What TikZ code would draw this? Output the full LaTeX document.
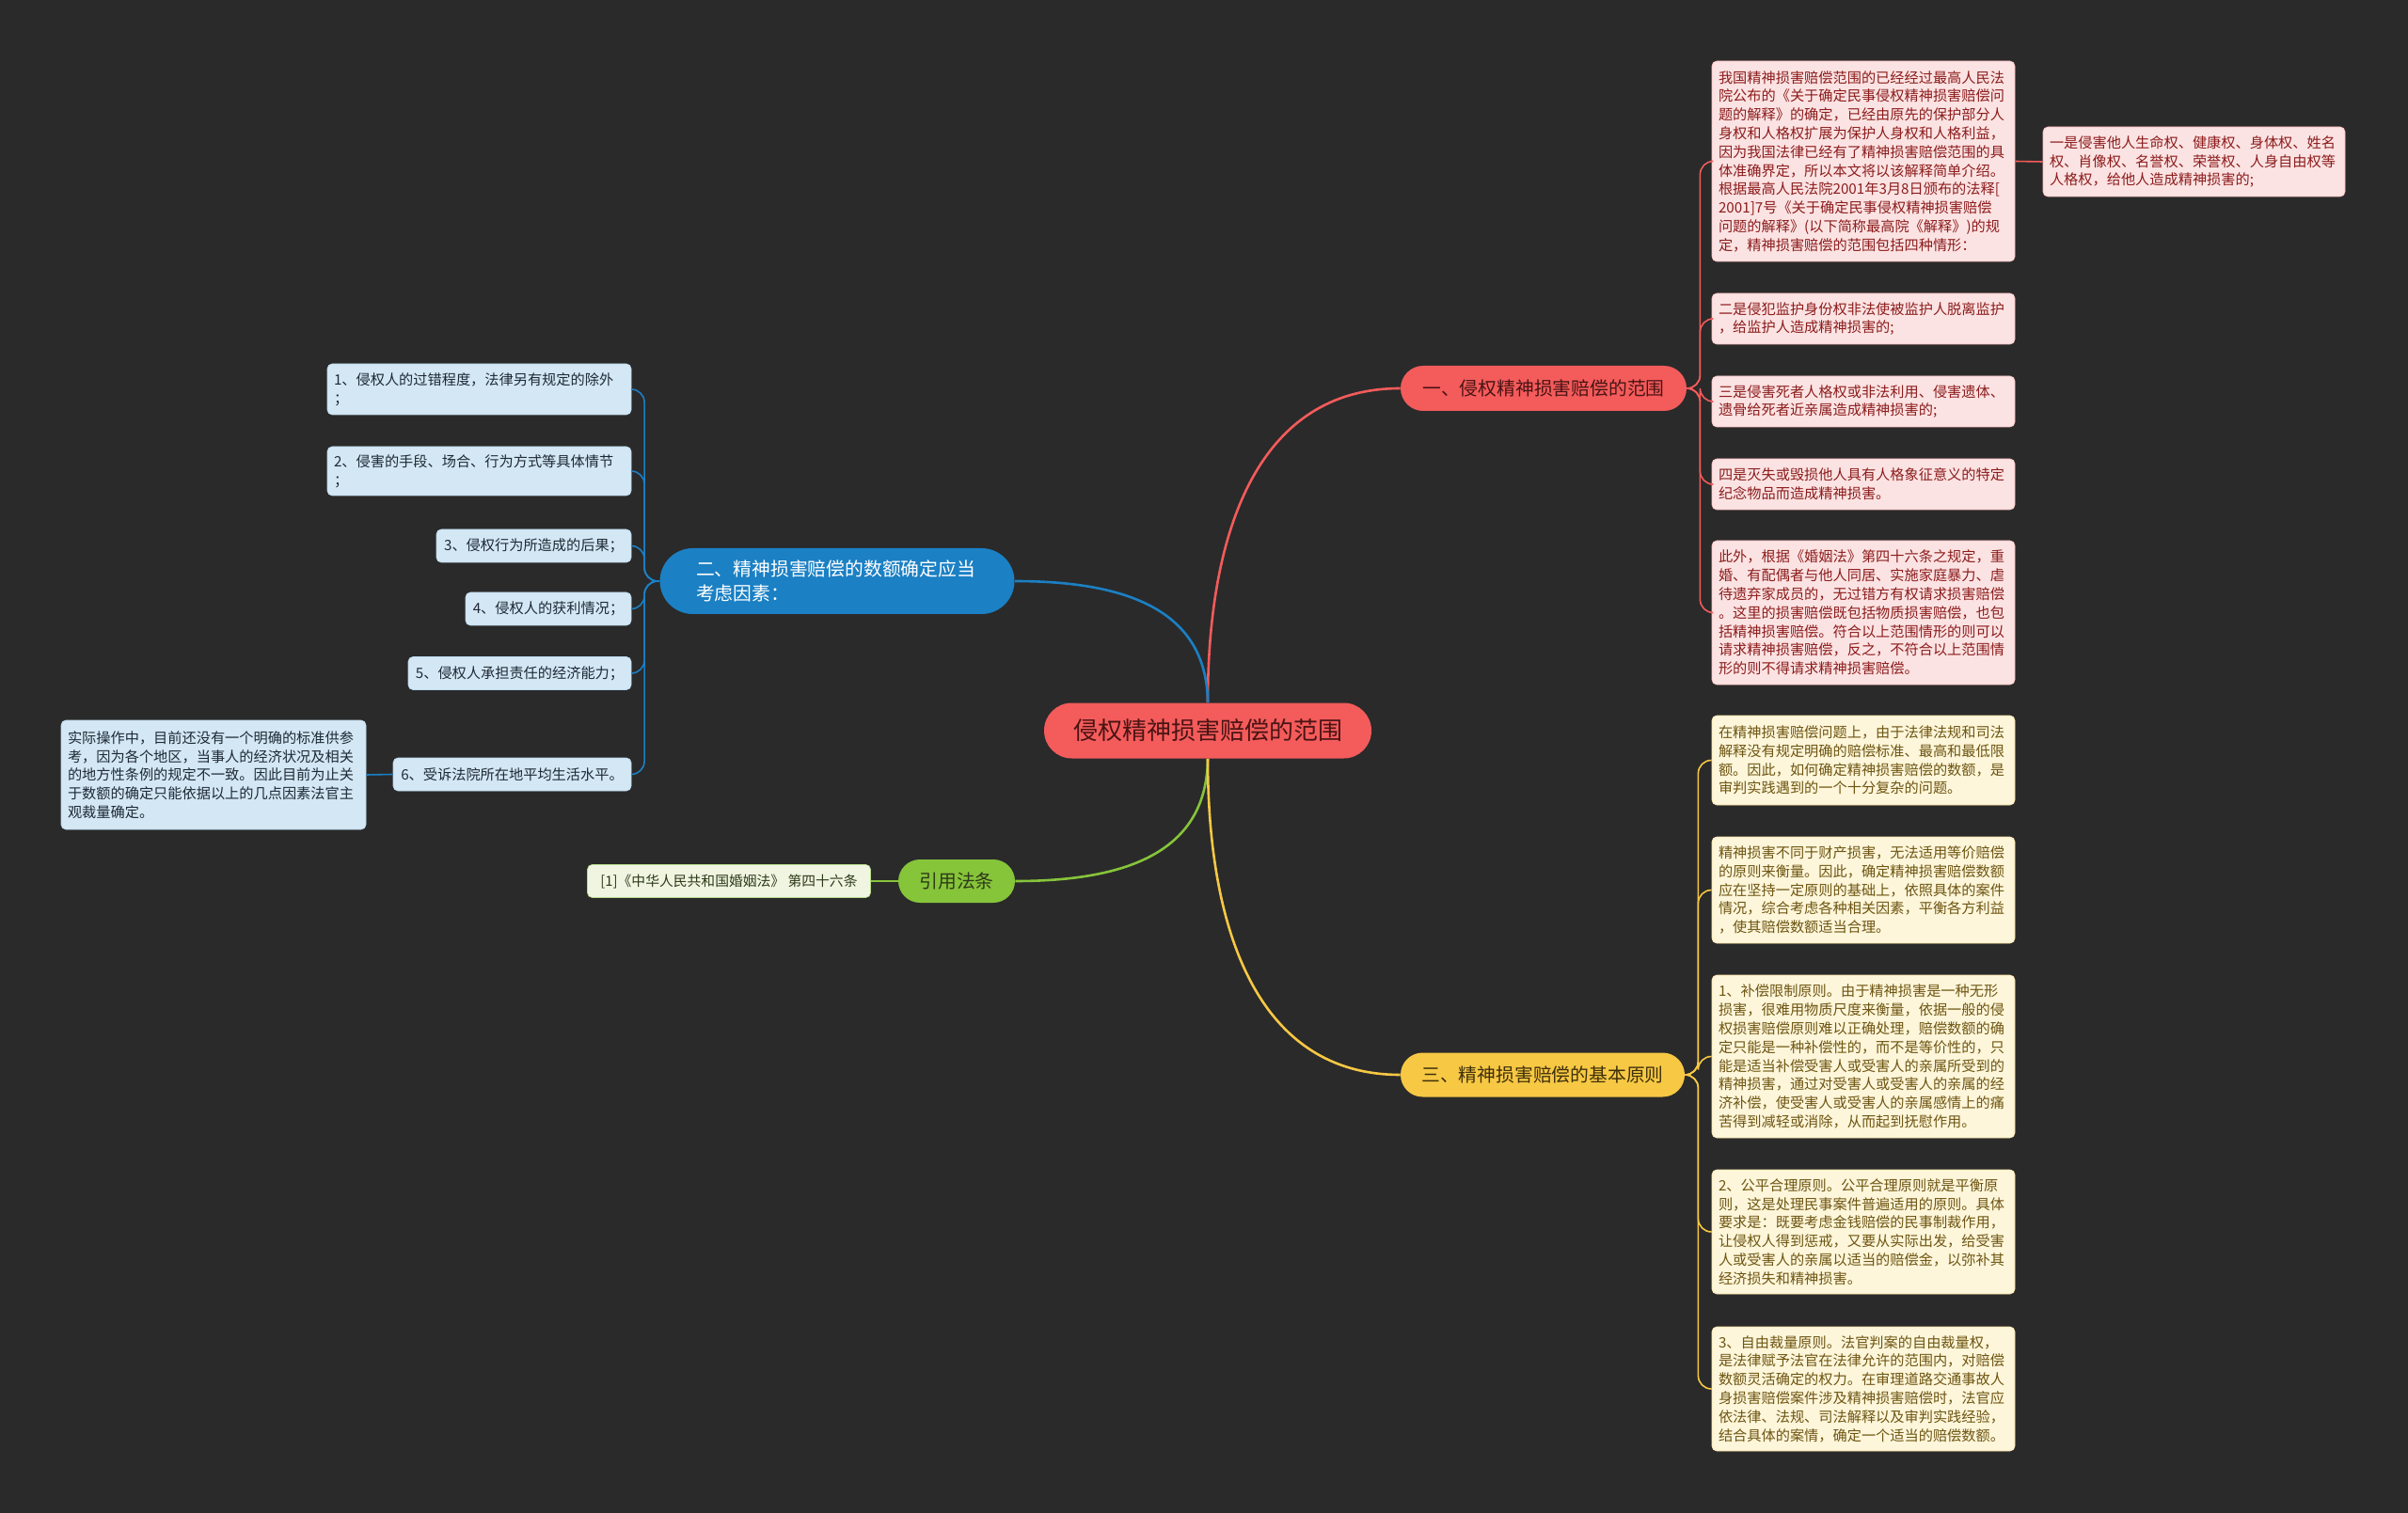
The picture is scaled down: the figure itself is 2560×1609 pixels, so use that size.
\documentclass[tikz,border=0pt]{standalone}
\usepackage{fontspec}
\setmainfont{Noto Sans CJK SC}
\definecolor{bg}{HTML}{2A2A2A}
\definecolor{redm}{HTML}{F45B5B}
\definecolor{redlt}{HTML}{FCE3E3}
\definecolor{redtx}{HTML}{8C1C1C}
\definecolor{redmt}{HTML}{4A1414}
\definecolor{bluem}{HTML}{1B80C4}
\definecolor{bluelt}{HTML}{D4E7F4}
\definecolor{bluetx}{HTML}{1E2A36}
\definecolor{greenm}{HTML}{86C43A}
\definecolor{greenlt}{HTML}{F0F5E2}
\definecolor{greentx}{HTML}{2C3A18}
\definecolor{yelm}{HTML}{F7C844}
\definecolor{yellt}{HTML}{FDF6DA}
\definecolor{yeltx}{HTML}{6E5512}
\definecolor{yelmt}{HTML}{3E300A}
\tikzset{
  boxbase/.style={rounded corners=2.5pt, inner xsep=3.5pt, inner ysep=0pt, align=left,
    font=\fontsize{7.6}{9.9}\selectfont},
  redbox/.style={boxbase, fill=redlt, text=redtx, draw=redm!40, line width=0.3pt},
  yelbox/.style={boxbase, fill=yellt, text=yeltx, draw=yelm!50, line width=0.3pt},
  bluebox/.style={boxbase, fill=bluelt, text=bluetx, draw=bluem!30, line width=0.3pt},
  greenbox/.style={boxbase, fill=greenlt, text=greentx, draw=greenm!60, line width=0.3pt, align=center},
  mainnode/.style={inner sep=0pt, font=\fontsize{9.9}{13}\selectfont},
  mainline/.style={line width=1.3pt},
  subline/.style={line width=0.8pt, rounded corners=7pt},
}
\begin{document}
\begin{tikzpicture}[x=0.5pt,y=-0.5pt]
\useasboundingbox (0,0) rectangle (2560,1609);
\fill[bg] (0,0) rectangle (2560,1609);

% central node
\node[mainnode, fill=redm, text=redmt, minimum width=174pt, minimum height=29.5pt,
  rounded corners=14.7pt, font=\fontsize{13}{16}\selectfont] (c) at (1284,777) {侵权精神损害赔偿的范围};

% main branches
\node[mainnode, fill=redm, text=redmt, minimum width=152pt, minimum height=24pt, rounded corners=12pt] (r) at (1641,413) {一、侵权精神损害赔偿的范围};
\node[mainnode, fill=bluem, text=white, minimum width=188.5pt, minimum height=35pt, rounded corners=17.5pt,
  text width=150pt, align=left] (b) at (890,618) {二、精神损害赔偿的数额确定应当\\考虑因素：};
\node[mainnode, fill=greenm, text=greentx, minimum width=62pt, minimum height=23pt, rounded corners=11.5pt] (g) at (1017,937) {引用法条};
\node[mainnode, fill=yelm, text=yelmt, minimum width=151pt, minimum height=23.5pt, rounded corners=11.7pt] (y) at (1640,1143) {三、精神损害赔偿的基本原则};

% red children
\node[redbox, text width=154pt, minimum height=106.5pt] (r1) at (1981,171.5) {我国精神损害赔偿范围的已经经过最高人民法\\院公布的《关于确定民事侵权精神损害赔偿问\\题的解释》的确定，已经由原先的保护部分人\\身权和人格权扩展为保护人身权和人格利益，\\因为我国法律已经有了精神损害赔偿范围的具\\体准确界定，所以本文将以该解释简单介绍。\\根据最高人民法院2001年3月8日颁布的法释[\\2001]7号《关于确定民事侵权精神损害赔偿\\问题的解释》(以下简称最高院《解释》)的规\\定，精神损害赔偿的范围包括四种情形：};
\node[redbox, text width=153.5pt, minimum height=37pt] (rf) at (2332.5,172) {一是侵害他人生命权、健康权、身体权、姓名\\权、肖像权、名誉权、荣誉权、人身自由权等\\人格权，给他人造成精神损害的;};
\node[redbox, text width=154pt, minimum height=27pt] (r2) at (1981,339) {二是侵犯监护身份权非法使被监护人脱离监护\\，给监护人造成精神损害的;};
\node[redbox, text width=154pt, minimum height=27pt] (r3) at (1981,427) {三是侵害死者人格权或非法利用、侵害遗体、\\遗骨给死者近亲属造成精神损害的;};
\node[redbox, text width=154pt, minimum height=27pt] (r4) at (1981,515) {四是灭失或毁损他人具有人格象征意义的特定\\纪念物品而造成精神损害。};
\node[redbox, text width=154pt, minimum height=76.5pt] (r5) at (1981,651.5) {此外，根据《婚姻法》第四十六条之规定，重\\婚、有配偶者与他人同居、实施家庭暴力、虐\\待遗弃家成员的，无过错方有权请求损害赔偿\\。这里的损害赔偿既包括物质损害赔偿，也包\\括精神损害赔偿。符合以上范围情形的则可以\\请求精神损害赔偿，反之，不符合以上范围情\\形的则不得请求精神损害赔偿。};

% yellow children
\node[yelbox, text width=154pt, minimum height=47.5pt] (y1) at (1981,808.5) {在精神损害赔偿问题上，由于法律法规和司法\\解释没有规定明确的赔偿标准、最高和最低限\\额。因此，如何确定精神损害赔偿的数额，是\\审判实践遇到的一个十分复杂的问题。};
\node[yelbox, text width=154pt, minimum height=56.5pt] (y2) at (1981,946.5) {精神损害不同于财产损害，无法适用等价赔偿\\的原则来衡量。因此，确定精神损害赔偿数额\\应在坚持一定原则的基础上，依照具体的案件\\情况，综合考虑各种相关因素，平衡各方利益\\，使其赔偿数额适当合理。};
\node[yelbox, text width=154pt, minimum height=86.5pt] (y3) at (1981,1123.5) {1、补偿限制原则。由于精神损害是一种无形\\损害，很难用物质尺度来衡量，依据一般的侵\\权损害赔偿原则难以正确处理，赔偿数额的确\\定只能是一种补偿性的，而不是等价性的，只\\能是适当补偿受害人或受害人的亲属所受到的\\精神损害，通过对受害人或受害人的亲属的经\\济补偿，使受害人或受害人的亲属感情上的痛\\苦得到减轻或消除，从而起到抚慰作用。};
\node[yelbox, text width=154pt, minimum height=66pt] (y4) at (1981,1310) {2、公平合理原则。公平合理原则就是平衡原\\则，这是处理民事案件普遍适用的原则。具体\\要求是：既要考虑金钱赔偿的民事制裁作用，\\让侵权人得到惩戒，又要从实际出发，给受害\\人或受害人的亲属以适当的赔偿金，以弥补其\\经济损失和精神损害。};
\node[yelbox, text width=154pt, minimum height=66pt] (y5) at (1981,1477) {3、自由裁量原则。法官判案的自由裁量权，\\是法律赋予法官在法律允许的范围内，对赔偿\\数额灵活确定的权力。在审理道路交通事故人\\身损害赔偿案件涉及精神损害赔偿时，法官应\\依法律、法规、司法解释以及审判实践经验，\\结合具体的案情，确定一个适当的赔偿数额。};

% blue children
\node[bluebox, text width=154.5pt, minimum height=27pt] (b1) at (509.5,414) {1、侵权人的过错程度，法律另有规定的除外\\；};
\node[bluebox, text width=154.5pt, minimum height=26pt] (b2) at (509.5,501) {2、侵害的手段、场合、行为方式等具体情节\\；};
\node[bluebox, align=center, minimum width=103.5pt, minimum height=17.5pt] (b3) at (567.5,580.5) {3、侵权行为所造成的后果；};
\node[bluebox, align=center, minimum width=88pt, minimum height=17.5pt] (b4) at (583,647.5) {4、侵权人的获利情况；};
\node[bluebox, align=center, minimum width=118.5pt, minimum height=17.5pt] (b5) at (552.5,716) {5、侵权人承担责任的经济能力；};
\node[bluebox, align=center, minimum width=126.5pt, minimum height=17.5pt] (b6) at (544.5,823.5) {6、受诉法院所在地平均生活水平。};
\node[bluebox, text width=155pt, minimum height=58pt] (bf) at (227,824) {实际操作中，目前还没有一个明确的标准供参\\考，因为各个地区，当事人的经济状况及相关\\的地方性条例的规定不一致。因此目前为止关\\于数额的确定只能依据以上的几点因素法官主\\观裁量确定。};

% green child
\node[greenbox, minimum width=150.5pt, minimum height=17.5pt, font=\fontsize{7.4}{9}\selectfont] (g1) at (775,937) {[1]《中华人民共和国婚姻法》 第四十六条};

% main connectors
\draw[mainline, redm] (c.north) .. controls (1284,560) and (1340,413) .. (r.west);
\draw[mainline, bluem] (c.north) .. controls (1283,650) and (1200,618) .. (b.east);
\draw[mainline, greenm] (c.south) .. controls (1283,905) and (1200,937) .. (g.east);
\draw[mainline, yelm] (c.south) .. controls (1284,995) and (1340,1143) .. (y.west);

% red sub connectors
\foreach \n in {r1,r2,r3,r4,r5}{
  \draw[subline, redm] (r.east) -- ++(7pt,0) |- (\n.west);
}
\draw[subline, redm] (r1.east) -- (rf.west);

% yellow sub connectors
\foreach \n in {y1,y2,y3,y4,y5}{
  \draw[subline, yelm] (y.east) -- ++(7pt,0) |- (\n.west);
}

% blue sub connectors
\foreach \n in {b1,b2,b3,b4,b5,b6}{
  \draw[subline, bluem] (b.west) -- ++(-8pt,0) |- (\n.east);
}
\draw[subline, bluem] (b6.west) -- (bf.east);

% green sub connector
\draw[subline, greenm] (g.west) -- (g1.east);
\end{tikzpicture}
\end{document}
